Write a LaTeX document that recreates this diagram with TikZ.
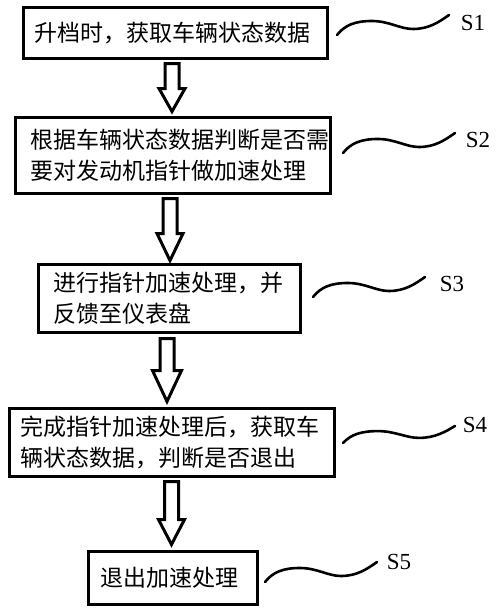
\documentclass[tikz,border=0pt]{standalone}
\usepackage{fontspec}
\setmainfont{Liberation Serif}
\newfontfamily\cjk{Noto Sans CJK SC}
\usetikzlibrary{calc}
\tikzset{
  stepbox/.style={draw, line width=3pt, rectangle, anchor=north west, outer sep=0pt,
    inner ysep=0pt, align=left, font=\cjk\fontsize{23}{31}\selectfont},
  harrow/.style={draw, line width=3pt, line join=miter, fill=white},
  wave/.style={draw, line width=2.6pt, line cap=round},
  slabel/.style={font=\fontsize{23}{25}\selectfont, inner sep=0pt},
  leader/.pic={\draw[wave] (0,0) .. controls (8,-10) and (18,-14) .. (35,-14)
     .. controls (52,-14) and (63,-6) .. (76,-6)
     .. controls (92,-6) and (102,-13) .. (112,-20);}
}
% #1 from, #2 to, #3 x centre, #4 head base height, #5 head half width, #6 shaft gap, #7 tip gap
\newcommand\hollowarrow[7]{%
  \draw[harrow] let \p1=(#1.south), \p2=(#2.north) in
    ({#3-7pt},{\y1-#6}) -- ({#3+7pt},{\y1-#6}) -- ({#3+7pt},{\y2+#4}) --
    ({#3+#5},{\y2+#4}) -- (#3,{\y2+#7}) -- ({#3-#5},{\y2+#4}) --
    ({#3-7pt},{\y2+#4}) -- cycle;}
\begin{document}
\begin{tikzpicture}[x=1pt,y=-1pt]
\fill[white] (0,0) rectangle (500,613);
\useasboundingbox (0,0) rectangle (500,613);

\node[stepbox, inner xsep=10.5pt, text width=283pt, minimum height=51pt] (b1) at (23.5,7.5)
  {升档时，获取车辆状态数据};
\node[stepbox, inner xsep=14.5pt, text width=286pt, minimum height=76pt] (b2) at (15.5,117.5)
  {根据车辆状态数据判断是否需\\要对发动机指针做加速处理};
\node[stepbox, inner xsep=14.5pt, text width=233pt, minimum height=68pt] (b3) at (38.5,264.5)
  {进行指针加速处理，并\\反馈至仪表盘};
\node[stepbox, inner xsep=10.5pt, text width=304pt, minimum height=68pt] (b4) at (9.5,408.5)
  {完成指针加速处理后，获取车\\辆状态数据，判断是否退出};
\node[stepbox, inner xsep=11.5pt, text width=146pt, minimum height=53pt] (b5) at (88.5,551.5)
  {退出加速处理};

\hollowarrow{b1}{b2}{172pt}{29pt}{13pt}{5pt}{6pt}
\hollowarrow{b2}{b3}{170pt}{31pt}{13pt}{5pt}{4pt}
\hollowarrow{b3}{b4}{167pt}{38pt}{14.5pt}{6pt}{7pt}
\hollowarrow{b4}{b5}{171.5pt}{32pt}{13pt}{5pt}{7pt}

\node[slabel] (s1) at (473,23) {S1};
\node[slabel] (s2) at (478,140) {S2};
\node[slabel] (s3) at (452,284) {S3};
\node[slabel] (s4) at (475,425) {S4};
\node[slabel] (s5) at (399,562) {S5};

\coordinate (w1) at (337,35);
\coordinate (w2) at (343,153);
\coordinate (w3) at (313,297);
\coordinate (w4) at (343,443);
\coordinate (w5) at (265,582);
\pic at (w1) {leader};
\pic at (w2) {leader};
\pic at (w3) {leader};
\pic[yscale=0.85] at (w4) {leader};
\pic at (w5) {leader};
\end{tikzpicture}
\end{document}
